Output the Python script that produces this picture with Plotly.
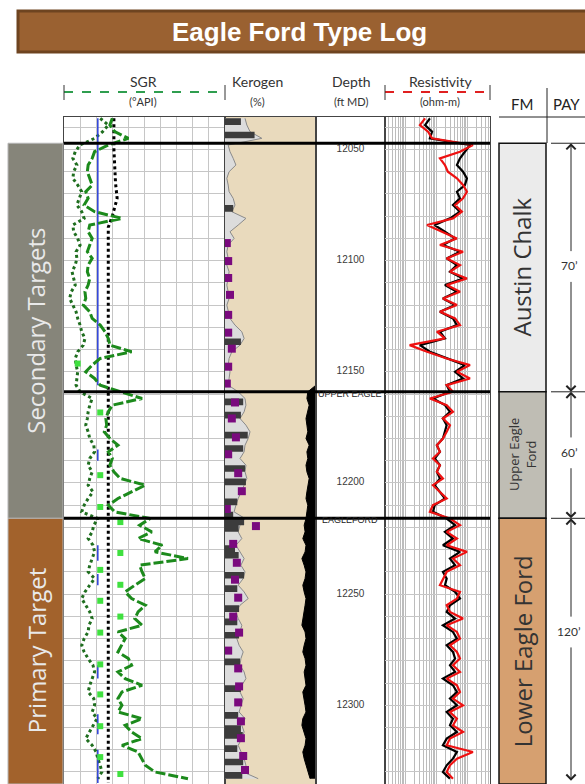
import plotly.graph_objects as go

# ---------------- data ----------------
depth = list(range(12036, 12336, 3))  # ft MD sample depths (100 samples)

sgr_dotted = [
    45, 55, 48, 38, 20, 14, 11, 16, 12, 11,
    17, 22, 19, 16, 22, 25, 11, 12, 17, 20,
    15, 16, 14, 10, 12, 14, 9, 7, 11, 15,
    17, 20, 22, 26, 24, 17, 14, 15, 17, 16,
    15, 20, 35, 32, 30, 29, 27, 30, 32, 37,
    38, 32, 30, 35, 32, 30, 36, 30, 25, 22,
    42, 37, 35, 30, 36, 38, 35, 32, 30, 38,
    32, 26, 22, 27, 32, 35, 31, 30, 25, 22,
    25, 30, 36, 38, 35, 32, 30, 37, 38, 35,
    41, 36, 32, 27, 35, 40, 42, 45, 47, 42,
]

sgr_dashed = [
    60, 57, 63, 80, 55, 38, 35, 30, 29, 32,
    35, 27, 30, 25, 38, 72, 32, 30, 35, 32,
    29, 35, 30, 29, 32, 30, 26, 27, 24, 32,
    35, 45, 51, 55, 57, 84, 45, 35, 27, 38,
    45, 70, 97, 60, 55, 52, 53, 50, 57, 67,
    55, 60, 57, 62, 70, 101, 84, 67, 55, 63,
    107, 94, 109, 92, 122, 113, 154, 94, 97, 101,
    88, 76, 84, 101, 92, 88, 97, 67, 76, 72,
    67, 80, 84, 67, 76, 97, 72, 67, 72, 67,
    97, 76, 84, 97, 72, 92, 97, 101, 113, 154,
]

cutoff_depth = [12036, 12156, None, 12185, 12190, None, 12228, 12235, None,
                12241, 12246, None, 12282, 12288, None, 12304, 12313, None, 12320, 12335]
cutoff_val = [42, 42, None, 42, 42, None, 42, 42, None,
              42, 42, None, 42, 42, None, 42, 42, None, 42, 42]

bdot_depth = [12036, 12050, 12065, 12072, 12080, 12085, 12335]
bdot_val = [62, 62, 64, 66, 60, 55, 55]

gsq_depth = [12146.3, 12168.3, 12196.5, 12210.8, 12217.6, 12231.5, 12239.1, 12245.8,
             12253.0, 12260.1, 12267.3, 12281.6, 12295.1, 12309.4, 12323.3, 12330.9]
gsq_val = [17, 45, 45, 45, 70, 70, 45, 70, 45, 70, 45, 45, 45, 45, 45, 70]

kerogen = [
    4.4, 4.8, 5.5, 8.1, 0.7, 1.1, 1.8, 2.4, 0.9, 0.4,
    0.7, 0.9, 1.8, 2.2, 1.5, 4.6, 2.9, 1.1, 2.0, 0.7,
    0.4, 0.7, 0.4, 0.9, 0.7, 0.4, 0.7, 0.9, 0.4, 0.7,
    1.1, 2.2, 3.7, 4.2, 3.3, 1.5, 0.9, 0.7, 1.1, 0.9,
    0.7, 2.9, 4.4, 4.6, 4.2, 3.3, 4.6, 5.5, 5.1, 4.4,
    4.2, 3.3, 4.6, 4.4, 4.8, 4.2, 3.5, 2.9, 2.4, 2.0,
    4.4, 3.3, 2.9, 3.7, 2.4, 3.3, 4.2, 3.5, 4.4, 4.0,
    2.9, 4.2, 5.1, 3.3, 2.4, 2.9, 3.7, 3.3, 2.6, 3.1,
    4.0, 3.5, 3.3, 4.2, 4.6, 3.7, 3.3, 4.0, 3.5, 3.1,
    4.4, 3.7, 4.2, 3.7, 2.9, 3.5, 4.2, 4.6, 4.0, 7.3,
]

kerogen_dark = [
    3.5, 0, 6.5, 0, 0, 0, 0, 0, 0, 0,
    0, 0, 0, 1.8, 0, 0, 0, 0, 0, 0,
    0, 0, 0, 0, 0, 0, 0, 0, 0, 0,
    0, 0, 0, 3.5, 0, 0, 0, 0, 0, 0,
    0, 0, 4.0, 0, 3.5, 0, 0, 5.0, 0, 4.0,
    0, 0, 4.4, 0, 4.6, 0, 0, 2.7, 0, 1.8,
    4.2, 3.0, 0, 0, 2.2, 3.0, 0, 0, 4.2, 0,
    2.7, 0, 0, 3.1, 0, 2.7, 0, 3.1, 0, 0,
    0, 3.3, 0, 0, 0, 3.5, 0, 0, 0, 2.9,
    0, 3.5, 3.9, 0, 2.7, 0, 4.0, 0, 3.8, 3.5,
]

black_edge = [
    20, 20, 20, 20, 20, 20, 20, 20, 20, 20,
    20, 20, 20, 20, 20, 20, 20, 20, 20, 20,
    20, 20, 20, 20, 20, 20, 20, 20, 20, 20,
    20, 20, 20, 20, 20, 20, 20, 20, 20, 20,
    20, 18.2, 18.0, 18.5, 18.2, 17.8, 18.0, 18.2, 17.8, 18.5,
    18.0, 18.2, 17.8, 18.0, 18.5, 18.2, 18.0, 17.8, 18.2, 18.0,
    17.8, 17.4, 17.6, 17.1, 17.8, 17.6, 16.9, 17.4, 17.8, 17.6,
    17.1, 17.4, 17.8, 17.6, 17.4, 17.1, 16.9, 17.6, 17.8, 17.4,
    17.1, 17.6, 17.8, 17.4, 17.6, 17.8, 17.1, 17.4, 17.6, 17.8,
    17.1, 16.9, 17.4, 17.8, 17.6, 17.1, 17.4, 17.8, 18.2, 18.7,
]

core_depth = [12092.1, 12100.2, 12107.8, 12115.4, 12124.4, 12132.4, 12139.6, 12147.7,
              12155.3, 12163.8, 12171.0, 12179.5, 12187.1, 12195.6, 12203.7, 12211.7,
              12219.4, 12227.4, 12235.9, 12243.5, 12251.6, 12260.1, 12267.3, 12275.4,
              12283.4, 12291.5, 12298.7, 12307.2, 12314.8, 12322.8, 12329.1]
core_val = [0.4, 0.7, 0.7, 1.1, 0.7, 0.7, 1.5, 0.7,
            0.4, 2.2, 1.5, 2.4, 0.7, 2.9, 3.7, 0.4,
            6.8, 1.8, 2.6, 2.2, 2.9, 1.8, 3.1, 0.7,
            2.9, 3.1, 2.9, 3.5, 3.5, 4.0, 4.4]

res_red = [
    4.4, 3.0, 5.5, 7.4, 154, 59, 13.3, 19.3, 24, 47,
    74, 99, 74, 41, 68, 35, 5.1, 16.6, 47, 13.3,
    74, 22, 59, 28, 99, 22, 59, 16.6, 47, 13.3,
    41, 59, 10.6, 19.3, 1.4, 5.1, 22, 124, 47, 124,
    22, 35, 6.3, 22, 35, 16.6, 28, 22, 16.6, 10.6,
    13.3, 7.9, 13.3, 10.6, 16.6, 7.9, 13.3, 22, 7.9, 6.3,
    28, 59, 22, 47, 22, 99, 35, 59, 22, 16.6,
    13.3, 59, 47, 22, 28, 74, 22, 47, 59, 28,
    47, 59, 35, 59, 22, 47, 59, 35, 74, 28,
    47, 35, 74, 28, 22, 154, 47, 28, 22, 35,
]

res_black = [
    6.3, 4.4, 7.4, 6.3, 124, 85, 59, 47, 74, 99,
    85, 47, 59, 35, 59, 28, 9, 19.3, 41, 16.6,
    59, 22, 47, 28, 74, 19.3, 47, 16.6, 41, 13.3,
    35, 47, 13.3, 19.3, 3.0, 6.3, 22, 85, 41, 74,
    22, 28, 7.9, 19.3, 28, 16.6, 22, 19.3, 16.6, 10.6,
    13.3, 9, 13.3, 10.6, 13.3, 9, 13.3, 19.3, 9, 7.9,
    22, 41, 19.3, 35, 16.6, 59, 28, 41, 16.6, 22,
    19.3, 41, 59, 28, 22, 41, 16.6, 35, 47, 22,
    35, 41, 28, 41, 16.6, 35, 47, 28, 47, 22,
    35, 28, 47, 22, 16.6, 47, 35, 22, 16.6, 28,
]

depth_labels = [12050, 12100, 12150, 12200, 12250, 12300]

fm_names = ["Austin Chalk", "Upper Eagle<br>Ford", "Lower Eagle Ford"]
fm_top = [12047.2, 12159.0, 12215.9]
fm_base = [12159.0, 12215.9, 12335.4]
fm_colors = ["#ebebeb", "#bfbdb4", "#d6a070"]
fm_font = [24, 13, 24]
pay_labels = ["70’", "60’", "120’"]
pay_label_depth = [12102.4, 12186.2, 12266.8]

target_names = ["Secondary Targets", "Primary Target"]
target_top = [12047.2, 12215.9]
target_base = [12215.9, 12335.4]
target_colors = ["#86857a", "#a2622c"]

top_names = ["UPPER EAGLE", "EAGLEFORD"]
top_name_depth = [12159.8, 12216.8]

# ---------------- layout helpers ----------------
W, H = 585, 784
def px(x):
    return x / W
def py(y):
    return 1 - y / H

DEPTH_RANGE = [12335.4, 12035.4]
SGR_RANGE = [0, 200]
KER_RANGE = [0, 20]
RES_RANGE = [-0.65, 2.74]
GRID = "#c6c6c6"
FONT = "Lato"

fig = go.Figure()

# SGR track
fig.add_trace(go.Scatter(x=sgr_dotted, y=depth, xaxis="x", yaxis="y", mode="lines",
                         line=dict(color="#1f6e1f", width=3, dash="dot")))
fig.add_trace(go.Scatter(x=bdot_val, y=bdot_depth, xaxis="x", yaxis="y", mode="lines",
                         line=dict(color="black", width=3, dash="dot")))
fig.add_trace(go.Scatter(x=cutoff_val, y=cutoff_depth, xaxis="x", yaxis="y", mode="lines",
                         line=dict(color="#2a3ed8", width=1.5), connectgaps=False))
fig.add_trace(go.Scatter(x=sgr_dashed, y=depth, xaxis="x", yaxis="y", mode="lines",
                         line=dict(color="#1c8a1c", width=3, dash="10px,3px")))
fig.add_trace(go.Scatter(x=gsq_val, y=gsq_depth, xaxis="x", yaxis="y", mode="markers",
                         marker=dict(symbol="square", size=6, color="#3fe03f")))

# Kerogen track
fig.add_trace(go.Scatter(x=kerogen, y=depth, xaxis="x2", yaxis="y2", mode="lines",
                         fill="tozerox", fillcolor="#dcdcdc",
                         line=dict(color="#8a8a8a", width=1)))
fig.add_trace(go.Scatter(x=kerogen_dark, y=depth, xaxis="x2", yaxis="y2", mode="lines",
                         fill="tozerox", fillcolor="#3c3c3c",
                         line=dict(color="#3c3c3c", width=0, shape="vh")))
fig.add_trace(go.Scatter(x=[KER_RANGE[1]] * len(depth), y=depth, xaxis="x2", yaxis="y2",
                         mode="lines", line=dict(color="black", width=0)))
fig.add_trace(go.Scatter(x=black_edge, y=depth, xaxis="x2", yaxis="y2", mode="lines",
                         fill="tonextx", fillcolor="black",
                         line=dict(color="black", width=1)))
fig.add_trace(go.Scatter(x=core_val, y=core_depth, xaxis="x2", yaxis="y2", mode="markers",
                         marker=dict(symbol="square", size=8, color="#7a0a7e")))

# Depth track
fig.add_trace(go.Scatter(x=[0.5] * len(depth_labels), y=depth_labels, xaxis="x3", yaxis="y3",
                         mode="text", text=[str(d) for d in depth_labels],
                         textfont=dict(family="Liberation Sans", size=10, color="#3a3a3a")))

# Resistivity track
fig.add_trace(go.Scatter(x=res_black, y=depth, xaxis="x4", yaxis="y4", mode="lines",
                         line=dict(color="black", width=2.2)))
fig.add_trace(go.Scatter(x=res_red, y=depth, xaxis="x4", yaxis="y4", mode="lines",
                         line=dict(color="#ee1111", width=2.2)))

axis_common = dict(showticklabels=False, zeroline=False, ticks="", showline=True,
                   mirror=True, linecolor="#444", linewidth=1)

layout = dict(
    width=W, height=H, margin=dict(l=0, r=0, t=0, b=0),
    paper_bgcolor="white", plot_bgcolor="white", showlegend=False,
    xaxis=dict(domain=[px(64), px(225)], range=SGR_RANGE, anchor="y", showgrid=True,
               dtick=20, gridcolor=GRID, **axis_common),
    yaxis=dict(domain=[0, py(117)], range=DEPTH_RANGE, anchor="x", showgrid=True,
               dtick=10, tick0=12000, gridcolor=GRID, **axis_common),
    xaxis2=dict(domain=[px(225), px(316)], range=KER_RANGE, anchor="y2", showgrid=False,
                **axis_common),
    yaxis2=dict(domain=[0, py(117)], matches="y", anchor="x2", showgrid=False, **axis_common),
    xaxis3=dict(domain=[px(316), px(385)], range=[0, 1], anchor="y3", showgrid=False,
                **axis_common),
    yaxis3=dict(domain=[0, py(117)], matches="y", anchor="x3", showgrid=False, **axis_common),
    xaxis4=dict(domain=[px(385), px(490)], type="log", range=RES_RANGE, anchor="y4",
                showgrid=True, dtick="D1", gridcolor="#bcbcbc", **axis_common),
    yaxis4=dict(domain=[0, py(117)], matches="y", anchor="x4", showgrid=True, dtick=10,
                tick0=12000, gridcolor=GRID, **axis_common),
)
fig.update_layout(**layout)

shapes = []
annotations = []

def note(x, y, text, size, color="#333", family=FONT, yref="paper", angle=0):
    annotations.append(dict(xref="paper", yref=yref, x=x, y=y, text=text, showarrow=False,
                            xanchor="center", yanchor="middle", textangle=angle,
                            font=dict(family=family, size=size, color=color)))

# title banner
shapes.append(dict(type="rect", xref="paper", yref="paper", x0=px(18), x1=px(590),
                   y0=py(52), y1=py(11), fillcolor="#9a6131",
                   line=dict(color="#6e4420", width=3), layer="below"))
note(px(299), py(32), "<b>Eagle Ford Type Log</b>", 26, "white", "Liberation Sans")

# kerogen background
shapes.append(dict(type="rect", xref="x2 domain", yref="y2 domain", x0=0, x1=1, y0=0, y1=1,
                   fillcolor="#e9dabd", line=dict(width=0), layer="below"))

# headers
hdr = [("SGR", "(°API)", 143), ("Kerogen", "(%)", 257), ("Depth", "(ft MD)", 351),
       ("Resistivity", "(ohm-m)", 440)]
for t1, t2, x in hdr:
    note(px(x), py(82), t1, 14)
    note(px(x), py(101), t2, 11)
for t, x in [("FM", 522), ("PAY", 566)]:
    note(px(x), py(104), t, 15, "#222")

# legend dashed lines with end caps
for x0, x1, col in [(64, 225, "#2f9e4f"), (385, 490, "#e02020")]:
    shapes.append(dict(type="line", xref="paper", yref="paper", x0=px(x0), x1=px(x1),
                       y0=py(92), y1=py(92), line=dict(color=col, width=2, dash="dash")))
    for xx in (x0, x1):
        shapes.append(dict(type="line", xref="paper", yref="paper", x0=px(xx), x1=px(xx),
                           y0=py(85), y1=py(100), line=dict(color="#333", width=1)))

# FM/PAY header lines
shapes.append(dict(type="line", xref="paper", yref="paper", x0=px(499), x1=1,
                   y0=py(117), y1=py(117), line=dict(color="#222", width=1)))
shapes.append(dict(type="line", xref="paper", yref="paper", x0=px(547), x1=px(547),
                   y0=py(88), y1=py(143), line=dict(color="#222", width=1)))

# target bars
for name, t, b, c in zip(target_names, target_top, target_base, target_colors):
    shapes.append(dict(type="rect", xref="paper", yref="y", x0=px(8), x1=px(63), y0=t, y1=b,
                       fillcolor=c, line=dict(color="#b5b5b5", width=1)))
    note(px(36), (t + b) / 2, name, 24, "#e9e9e9", "Open Sans", yref="y", angle=-90)

# formation boxes, pay arrows, top lines
for i, (name, t, b, c) in enumerate(zip(fm_names, fm_top, fm_base, fm_colors)):
    shapes.append(dict(type="rect", xref="paper", yref="y", x0=px(499), x1=px(546), y0=t, y1=b,
                       fillcolor=c, line=dict(color="#111", width=1.5)))
    note(px(522), (t + b) / 2, name, fm_font[i], "#333", "Open Sans", yref="y", angle=-90)
    shapes.append(dict(type="line", xref="paper", yref="y", x0=px(551), x1=1, y0=t, y1=t,
                       line=dict(color="#222", width=1)))
    shapes.append(dict(type="line", xref="paper", yref="y", x0=px(64), x1=px(490), y0=t, y1=t,
                       line=dict(color="black", width=3)))
    ld = pay_label_depth[i]
    bottom = b - 1.5 if i == len(fm_names) - 1 else b
    for head, tail in [(t, ld - 6), (bottom, ld + 6.5)]:
        annotations.append(dict(xref="paper", yref="y", x=px(571), y=head, text="",
                                showarrow=True, axref="pixel", ax=0, ayref="y", ay=tail,
                                arrowhead=4, arrowsize=1.8, arrowwidth=1, arrowcolor="#222"))
    note(px(569), ld, pay_labels[i], 12, "#333", yref="y")

# formation top names in depth track
for name, d in zip(top_names, top_name_depth):
    note(px(350), d, name, 9, "#222", "Liberation Sans Narrow, Liberation Sans", yref="y")

fig.update_layout(shapes=shapes, annotations=annotations)
fig.write_html("out.html", config={"displayModeBar": False},
               post_script="document.body.style.margin='0px';")
